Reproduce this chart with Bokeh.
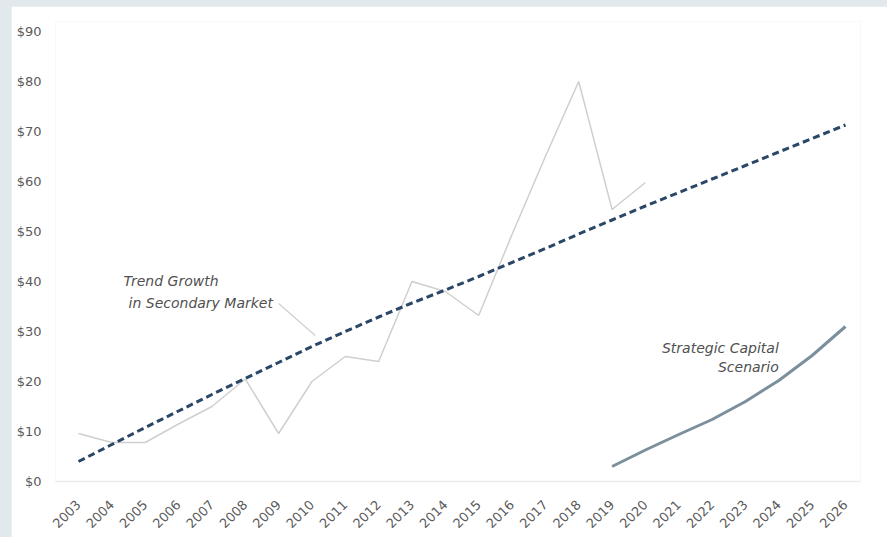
from bokeh.plotting import figure
from bokeh.models import Range1d, FixedTicker, PrintfTickFormatter, ColumnDataSource
from bokeh.core.properties import value
from bokeh.embed import file_html
from bokeh.resources import INLINE
from bokeh.core.templates import get_env
import math

# ---- data ----
hist_years = list(range(2003, 2021))
hist_values = [9.6, 7.8, 7.8, 11.5, 15, 20.5, 9.6, 20, 25, 24, 40, 38, 33.2, 49.4, 65, 80, 54.4, 59.8]

trend_years = list(range(2003, 2027))
trend_values = [4.0, 7.4, 10.8, 14.1, 17.4, 20.6, 23.8, 27.0, 30.0, 32.9, 35.7, 38.3,
                41.0, 43.8, 46.6, 49.5, 52.3, 55.1, 57.8, 60.5, 63.2, 65.9, 68.6, 71.3]

scenario_years = list(range(2019, 2027))
scenario_values = [3.0, 6.3, 9.4, 12.4, 16.0, 20.2, 25.2, 31.0]

y_ticks = [0, 10, 20, 30, 40, 50, 60, 70, 80, 90]
x_ticks = list(range(2003, 2027))

FONT = "DejaVu Sans"

p = figure(width=876, height=531, output_backend="svg", toolbar_location=None,
           x_range=Range1d(2002.31, 2026.45), y_range=Range1d(0, 92),
           min_border_left=44, min_border_right=27, min_border_top=15, min_border_bottom=56)
p.background_fill_color = "white"
p.border_fill_color = "white"
p.outline_line_color = None
p.xgrid.grid_line_color = None
p.ygrid.grid_line_color = None

# axes
p.xaxis.ticker = FixedTicker(ticks=x_ticks)
p.yaxis.ticker = FixedTicker(ticks=y_ticks)
p.yaxis.formatter = PrintfTickFormatter(format="$%d")
for ax in (p.xaxis[0], p.yaxis[0]):
    ax.major_tick_line_color = None
    ax.minor_tick_line_color = None
    ax.major_label_text_font = FONT
    ax.major_label_text_font_size = "13px"
    ax.major_label_text_color = "#5a5a5a"
p.yaxis.axis_line_color = None
p.yaxis.major_label_standoff = 8
p.xaxis.axis_line_color = "#ececec"
p.xaxis.axis_line_width = 1.5
p.xaxis.major_label_orientation = math.pi / 4
p.xaxis.major_label_standoff = 15

# series
p.line(hist_years, hist_values, line_color="#cfcfcf", line_width=1.5)
p.line(trend_years, trend_values, line_color="#2a4768", line_width=3, line_dash="7 4")
p.line(scenario_years, scenario_values, line_color="#7b8f9c", line_width=3)

# annotations
p.line([2009.0, 2010.1], [35.6, 29.2], line_color="#cfcfcf", line_width=1.2)
ann = ColumnDataSource(dict(x=[2004.35, 2004.5], y=[40.2, 35.8],
                            t=["Trend Growth", "in Secondary Market"]))
p.text(x="x", y="y", text="t", source=ann, text_font=value(FONT), text_font_size="14px",
       text_font_style="italic", text_color="#505050", text_baseline="middle", text_align="left")
ann2 = ColumnDataSource(dict(x=[2024.0, 2024.0], y=[26.8, 23.0],
                             t=["Strategic Capital", "Scenario"]))
p.text(x="x", y="y", text="t", source=ann2, text_font=value(FONT), text_font_size="14px",
       text_font_style="italic", text_color="#505050", text_baseline="middle", text_align="right")

template = get_env().from_string("""{% extends "file.html" %}
{% block preamble %}<style>
html, body { background: #e2e9ec !important; overflow: hidden !important; }
body { margin: 6px 0 0 11px !important; height: auto !important; }
</style>{% endblock %}""")

open("out.html", "w").write(file_html(p, INLINE, template=template))
